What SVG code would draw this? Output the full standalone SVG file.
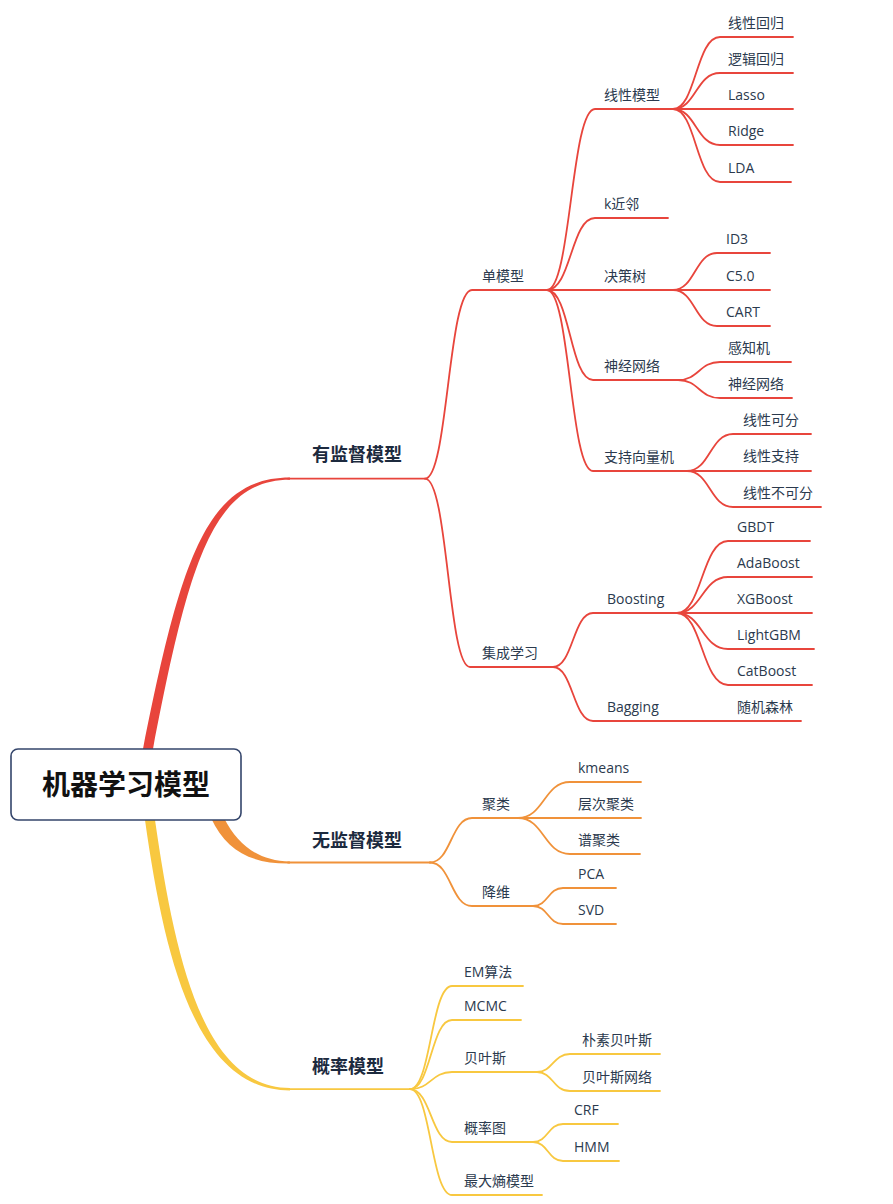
<svg xmlns="http://www.w3.org/2000/svg" width="893" height="1204" viewBox="0 0 893 1204">
<style>
text{font-family:"Open Sans","Noto Sans CJK SC",sans-serif;font-size:14px;fill:#2b3a4e}
.l1{font-family:"Noto Sans CJK SC",sans-serif;font-size:18px;font-weight:bold;fill:#1c2a3e}
.root{font-family:"Noto Sans CJK SC",sans-serif;font-size:28px;font-weight:bold;fill:#111}
.r{fill:none;stroke:#e8453c;stroke-width:1.8;stroke-linecap:round}
.o{fill:none;stroke:#f0923a;stroke-width:1.8;stroke-linecap:round}
.y{fill:none;stroke:#f8c840;stroke-width:1.8;stroke-linecap:round}
</style>
<rect width="893" height="1204" fill="#fff"/>
<g id="connectors">
<!-- main branches -->
<path d="M143,749 C181,558 207,477.5 290,477.5 L290,479.8 C213,479.8 189,562 153,749 Z" fill="#e8453c"/>
<path d="M224,818 C238,845 258,861 290,861.5 L290,863.5 C250,864 226,850 211,818 Z" fill="#f0923a"/>
<path d="M145,820 C165,962 197,1090.5 290,1090.5 L290,1088 C203,1088 175,958 155,820 Z" fill="#f8c840"/>
<path class="r" d="M288,478.6 L425,478.6"/>
<path class="o" d="M288,862.5 L430,862.5"/>
<path class="y" d="M288,1089.2 L410,1089.2"/>
<!-- supervised -->
<path class="r" d="M425,478.6 C448,478.6 448,290 472,290 L547,290"/>
<path class="r" d="M425,478.6 C448,478.6 448,667 470,667 L553,667"/>
<path class="r" d="M547,290 C571,290 571,109 595,109 L673,109"/>
<path class="r" d="M547,290 C571,290 571,218 595,218 L668,218"/>
<path class="r" d="M547,290 L673,290"/>
<path class="r" d="M547,290 C570,290 570,380 593,380 L678,380"/>
<path class="r" d="M547,290 C570,290 570,471 593,471 L687,471"/>
<path class="r" d="M673,109 C696,109 696,37 720,37 L793,37"/>
<path class="r" d="M673,109 C696,109 696,73 720,73 L793,73"/>
<path class="r" d="M673,109 L793,109"/>
<path class="r" d="M673,109 C696,109 696,145 720,145 L793,145"/>
<path class="r" d="M673,109 C696,109 696,182 720,182 L791,182"/>
<path class="r" d="M673,290 C695,290 695,253 717,253 L770,253"/>
<path class="r" d="M673,290 L770,290"/>
<path class="r" d="M673,290 C695,290 695,326 717,326 L770,326"/>
<path class="r" d="M678,380 C699,380 699,362 720,362 L791,362"/>
<path class="r" d="M678,380 C699,380 699,398 720,398 L792,398"/>
<path class="r" d="M687,471 C710,471 710,434 733,434 L811,434"/>
<path class="r" d="M687,471 L811,471"/>
<path class="r" d="M687,471 C710,471 710,507 733,507 L821,507"/>
<path class="r" d="M553,667 C573,667 573,613 593,613 L677,613"/>
<path class="r" d="M553,667 C573,667 573,721 593,721 L801,721"/>
<path class="r" d="M677,613 C702,613 702,541 728,541 L810,541"/>
<path class="r" d="M677,613 C702,613 702,577 728,577 L812,577"/>
<path class="r" d="M677,613 L812,613"/>
<path class="r" d="M677,613 C702,613 702,649 728,649 L814,649"/>
<path class="r" d="M677,613 C702,613 702,685 728,685 L812,685"/>
<!-- unsupervised -->
<path class="o" d="M430,862.5 C451,862.5 451,818 472,818 L518,818"/>
<path class="o" d="M430,862.5 C451,862.5 451,906 472,906 L533,906"/>
<path class="o" d="M518,818 C544,818 544,782 570,782 L641,782"/>
<path class="o" d="M518,818 L641,818"/>
<path class="o" d="M518,818 C544,818 544,854 570,854 L640,854"/>
<path class="o" d="M533,906 C548,906 548,888 563,888 L616,888"/>
<path class="o" d="M533,906 C548,906 548,924 563,924 L616,924"/>
<!-- probability -->
<path class="y" d="M410,1089.2 C431,1089.2 431,986 452,986 L523,986"/>
<path class="y" d="M410,1089.2 C431,1089.2 431,1020 452,1020 L521,1020"/>
<path class="y" d="M410,1089.2 C431,1089.2 431,1072 452,1072 L537,1072"/>
<path class="y" d="M410,1089.2 C431,1089.2 431,1142 452,1142 L533,1142"/>
<path class="y" d="M410,1089.2 C431,1089.2 431,1195 452,1195 L542,1195"/>
<path class="y" d="M537,1072 C553,1072 553,1054 570,1054 L660,1054"/>
<path class="y" d="M537,1072 C553,1072 553,1091 570,1091 L660,1091"/>
<path class="y" d="M533,1142 C548,1142 548,1124 563,1124 L618,1124"/>
<path class="y" d="M533,1142 C548,1142 548,1161 563,1161 L619,1161"/>
</g>
<g id="root">
<rect x="11" y="749" width="230" height="71" rx="7" fill="#fff" stroke="#34456b" stroke-width="1.6"/>
<text class="root" x="126" y="795" text-anchor="middle">机器学习模型</text>
</g>
<g id="supervised"><text class="l1" x="312" y="461">有监督模型</text></g>
<g id="unsupervised"><text class="l1" x="312" y="847">无监督模型</text></g>
<g id="probabilistic"><text class="l1" x="312" y="1073">概率模型</text></g>
<g id="single"><text x="482" y="281">单模型</text></g>
<g id="ensemble"><text x="482" y="658">集成学习</text></g>
<g id="linear"><text x="604" y="100">线性模型</text></g>
<g id="knn"><text x="604" y="209">k近邻</text></g>
<g id="tree"><text x="604" y="281">决策树</text></g>
<g id="nn"><text x="604" y="371">神经网络</text></g>
<g id="svm"><text x="604" y="462">支持向量机</text></g>
<g id="linreg"><text x="728" y="28">线性回归</text></g>
<g id="logreg"><text x="728" y="64">逻辑回归</text></g>
<g id="lasso"><text x="728" y="100">Lasso</text></g>
<g id="ridge"><text x="728" y="136">Ridge</text></g>
<g id="lda"><text x="728" y="173">LDA</text></g>
<g id="id3"><text x="726" y="244">ID3</text></g>
<g id="c50"><text x="726" y="281">C5.0</text></g>
<g id="cart"><text x="726" y="317">CART</text></g>
<g id="perceptron"><text x="728" y="353">感知机</text></g>
<g id="nn2"><text x="728" y="389">神经网络</text></g>
<g id="sep"><text x="743" y="425">线性可分</text></g>
<g id="sup"><text x="743" y="461">线性支持</text></g>
<g id="nonsep"><text x="743" y="498">线性不可分</text></g>
<g id="boosting"><text x="607" y="604">Boosting</text></g>
<g id="bagging"><text x="607" y="712">Bagging</text></g>
<g id="gbdt"><text x="737" y="532">GBDT</text></g>
<g id="adaboost"><text x="737" y="568">AdaBoost</text></g>
<g id="xgboost"><text x="737" y="604">XGBoost</text></g>
<g id="lightgbm"><text x="737" y="640">LightGBM</text></g>
<g id="catboost"><text x="737" y="676">CatBoost</text></g>
<g id="rf"><text x="737" y="712">随机森林</text></g>
<g id="cluster"><text x="482" y="809">聚类</text></g>
<g id="dimred"><text x="482" y="897">降维</text></g>
<g id="kmeans"><text x="578" y="773">kmeans</text></g>
<g id="hier"><text x="578" y="809">层次聚类</text></g>
<g id="spectral"><text x="578" y="845">谱聚类</text></g>
<g id="pca"><text x="578" y="879">PCA</text></g>
<g id="svd"><text x="578" y="915">SVD</text></g>
<g id="em"><text x="464" y="977">EM算法</text></g>
<g id="mcmc"><text x="464" y="1011">MCMC</text></g>
<g id="bayes"><text x="464" y="1063">贝叶斯</text></g>
<g id="pgm"><text x="464" y="1133">概率图</text></g>
<g id="maxent"><text x="464" y="1186">最大熵模型</text></g>
<g id="nb"><text x="582" y="1045">朴素贝叶斯</text></g>
<g id="bn"><text x="582" y="1082">贝叶斯网络</text></g>
<g id="crf"><text x="574" y="1115">CRF</text></g>
<g id="hmm"><text x="574" y="1152">HMM</text></g>
</svg>
